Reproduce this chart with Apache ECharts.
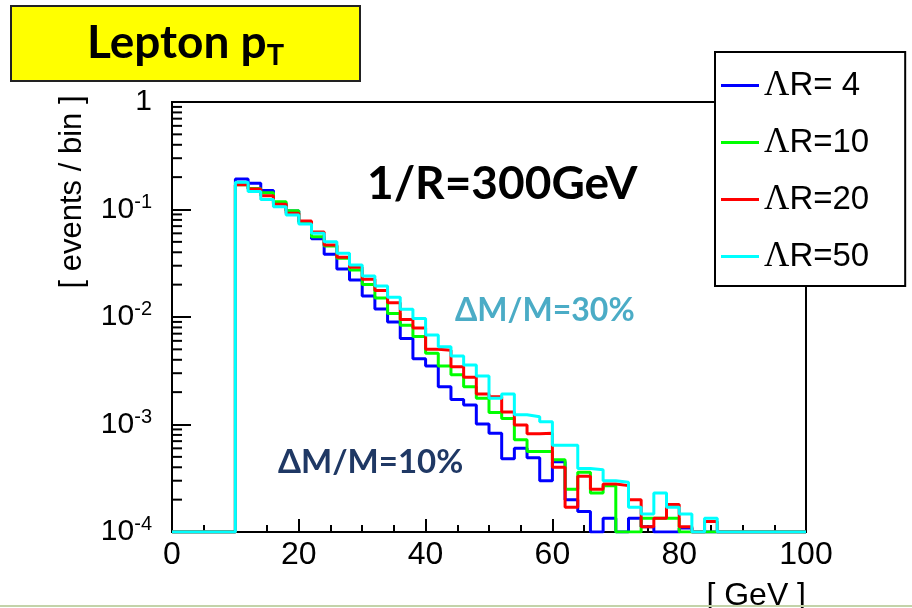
<!DOCTYPE html>
<html>
<head>
<meta charset="utf-8">
<script src="https://cdn.jsdelivr.net/npm/echarts@6/dist/echarts.min.js"></script>
<style>
  html, body { margin: 0; padding: 0; background: #fff; }
  #main { width: 912px; height: 608px; }
</style>
</head>
<body>
<div id="main"></div>
<script>
// 50 bins of 2 GeV, 0..100 GeV, events / bin (0 = empty bin)
var binEdges = [];
for (var i = 0; i <= 50; i++) binEdges.push(i * 2);

var seriesNames = ['4', '10', '20', '50'];
var seriesColors = ['#0000ff', '#00ff00', '#ff0000', '#00ffff'];

var lamR4 = [0, 0, 0, 0, 0,
  0.192, 0.175, 0.150, 0.115, 0.097, 0.0765, 0.0535, 0.0383, 0.0280, 0.0221,
  0.0157, 0.0119, 0.0090, 0.0063, 0.0041, 0.0035, 0.00225, 0.00171, 0.00152, 0.00101,
  0.00083, 0.00048, 0.00060, 0.00049, 0.00030, 0.00045, 0.00020, 0.000155, 0, 0.000134,
  0, 0.000134, 0.000112, 0, 0, 0.000109, 0, 0, 0, 0,
  0, 0, 0, 0, 0];

var lamR10 = [0, 0, 0, 0, 0,
  0.170, 0.157, 0.143, 0.118, 0.0975, 0.0765, 0.0559, 0.0458, 0.0352, 0.0274,
  0.0201, 0.0150, 0.0108, 0.0084, 0.0066, 0.0046, 0.0035, 0.0029, 0.00225, 0.00175,
  0.00129, 0.00114, 0.00072, 0.00056, 0.00056, 0.00047, 0.00025, 0.00036, 0.00023, 0.00027,
  0, 0, 0.000134, 0.000134, 0.000134, 0, 0, 0, 0, 0,
  0, 0, 0, 0, 0];

var lamR20 = [0, 0, 0, 0, 0,
  0.170, 0.155, 0.134, 0.112, 0.0922, 0.0782, 0.0618, 0.0468, 0.0359, 0.0290,
  0.0224, 0.0176, 0.0136, 0.0095, 0.0079, 0.0050, 0.0049, 0.00345, 0.00275, 0.00192,
  0.00181, 0.00131, 0.00099, 0.00082, 0.00083, 0.00040, 0.00017, 0.00033, 0.00025, 0.00028,
  0.00027, 0.00020, 0.000112, 0.000134, 0.00018, 0.000112, 0, 0.000125, 0, 0,
  0, 0, 0, 0, 0];

var lamR50 = [0, 0, 0, 0, 0,
  0.179, 0.147, 0.124, 0.106, 0.0889, 0.0733, 0.0601, 0.0501, 0.0391, 0.0305,
  0.0241, 0.0194, 0.0153, 0.0118, 0.0097, 0.0068, 0.0053, 0.00434, 0.00358, 0.00282,
  0.00175, 0.00192, 0.00123, 0.00118, 0.00106, 0.00064, 0.00064, 0.00039, 0.00038, 0.00030,
  0.00029, 0.00017, 0.000147, 0.00023, 0.00017, 0.000147, 0, 0.000134, 0, 0,
  0, 0, 0, 0, 0];

var allCounts = [lamR4, lamR10, lamR20, lamR50];

var yMin = 1e-4, yMax = 1;
var xTickLabels = ['0', '20', '40', '60', '80', '100'];

// minor log ticks 2..9 per decade
var minorTickVals = [];
for (var e = -4; e < 0; e++) {
  for (var m = 2; m <= 9; m++) minorTickVals.push(m * Math.pow(10, e));
}

function histPoints(counts) {
  var pts = [];
  for (var i = 0; i < counts.length; i++) {
    pts.push([binEdges[i], counts[i] > 0 ? counts[i] : yMin]);
  }
  var last = counts[counts.length - 1];
  pts.push([binEdges[counts.length], last > 0 ? last : yMin]);
  return pts;
}

var myChart = echarts.init(document.getElementById('main'));

var series = [];
for (var s = 0; s < allCounts.length; s++) {
  series.push({
    name: seriesNames[s],
    type: 'line',
    step: 'end',
    showSymbol: false,
    data: histPoints(allCounts[s]),
    color: seriesColors[s],
    lineStyle: { width: 3, color: seriesColors[s] },
    z: 3 + s
  });
}

// minor ticks on the log axis
series.push({
  name: 'minorTicks',
  type: 'custom',
  silent: true,
  z: 10,
  data: minorTickVals.map(function (v) { return [0, v]; }),
  renderItem: function (params, api) {
    var p = api.coord([0, api.value(1)]);
    return {
      type: 'line',
      shape: { x1: p[0], y1: p[1], x2: p[0] + 10, y2: p[1] },
      style: { stroke: '#000', lineWidth: 2 }
    };
  }
});

var option = {
  animation: false,
  backgroundColor: '#fff',
  grid: {
    left: 172, top: 102, right: 106, bottom: 76,
    show: true, borderColor: '#000', borderWidth: 2
  },
  legend: {
    data: seriesNames,
    orient: 'vertical',
    left: 715, top: 52,
    backgroundColor: '#fff',
    borderColor: '#000',
    borderWidth: 2,
    borderRadius: 0,
    padding: [16, 36, 12, 6],
    itemGap: 22,
    itemWidth: 38,
    itemHeight: 3,
    itemTextGap: 8,
    itemStyle: { borderWidth: 0 },
    icon: 'rect',
    z: 20,
    formatter: function (name) {
      var pad = name.length < 2 ? ' ' : '';
      return '{lam|\u039B}R=' + pad + name;
    },
    textStyle: {
      fontFamily: 'Liberation Sans',
      fontSize: 33,
      color: '#000',
      rich: {
        lam: { fontFamily: 'Liberation Serif', fontSize: 35, color: '#000' }
      }
    }
  },
  xAxis: {
    type: 'value',
    min: 0, max: 100, interval: 20,
    axisLine: { lineStyle: { color: '#000', width: 2 } },
    axisTick: { inside: true, length: 13, lineStyle: { color: '#000', width: 2 } },
    minorTick: { show: true, splitNumber: 4, length: 7, lineStyle: { color: '#000', width: 2 } },
    splitLine: { show: false },
    axisLabel: {
      margin: 7,
      fontFamily: 'Liberation Sans', fontSize: 32, color: '#000',
      formatter: function (v) { return xTickLabels[Math.round(v / 20)]; }
    }
  },
  yAxis: {
    type: 'log',
    logBase: 10,
    min: yMin, max: yMax,
    axisLine: { lineStyle: { color: '#000', width: 2 } },
    axisTick: { inside: true, length: 19, lineStyle: { color: '#000', width: 2 } },
    splitLine: { show: false },
    axisLabel: {
      margin: 20,
      fontFamily: 'Liberation Sans', fontSize: 30, color: '#000',
      formatter: function (v) {
        var ex = Math.round(Math.log10(v));
        if (ex === 0) return '1';
        return '10{sup|' + ex + '}';
      },
      rich: {
        sup: { fontFamily: 'Liberation Sans', fontSize: 20, color: '#000', verticalAlign: 'top', padding: [0, 0, 15, 0] }
      }
    }
  },
  graphic: [
    {
      type: 'rect', left: 10, top: 5,
      shape: { width: 349, height: 75 },
      style: { fill: '#ffff00', stroke: '#222', lineWidth: 2 },
      z: 5
    },
    {
      type: 'text', left: 87, top: 20, z: 6,
      style: {
        text: 'Lepton p{sub|T}',
        font: 'bold 46px Lato',
        fill: '#000',
        rich: { sub: { font: 'bold 29px Lato', fill: '#000', padding: [25, 0, 0, 0] } }
      }
    },
    {
      type: 'text', left: 367, top: 161, z: 6,
      style: { text: '1/R=300GeV', font: 'bold 46px Lato', fill: '#000' }
    },
    {
      type: 'text', left: 455, top: 295, z: 6,
      style: { text: '\u0394M/M=30%', font: 'bold 32px Lato', fill: '#4bacc6' }
    },
    {
      type: 'text', left: 278, top: 446, z: 6,
      style: { text: '\u0394M/M=10%', font: 'bold 33px Lato', fill: '#1f3864' }
    },
    {
      type: 'text', x: 72, y: 192, rotation: Math.PI / 2, z: 6,
      style: {
        text: '[ events / bin ]', font: '31px "Liberation Sans"', fill: '#000',
        align: 'center', verticalAlign: 'middle'
      }
    },
    {
      type: 'text', right: 106, top: 580, z: 6,
      style: { text: '[ GeV ]', font: '32px "Liberation Sans"', fill: '#000' }
    },
    {
      type: 'line', z: 6,
      shape: { x1: 0, y1: 606, x2: 912, y2: 606 },
      style: { stroke: '#c3d3a9', lineWidth: 2 }
    }
  ],
  series: series
};

myChart.setOption(option);
</script>
</body>
</html>
